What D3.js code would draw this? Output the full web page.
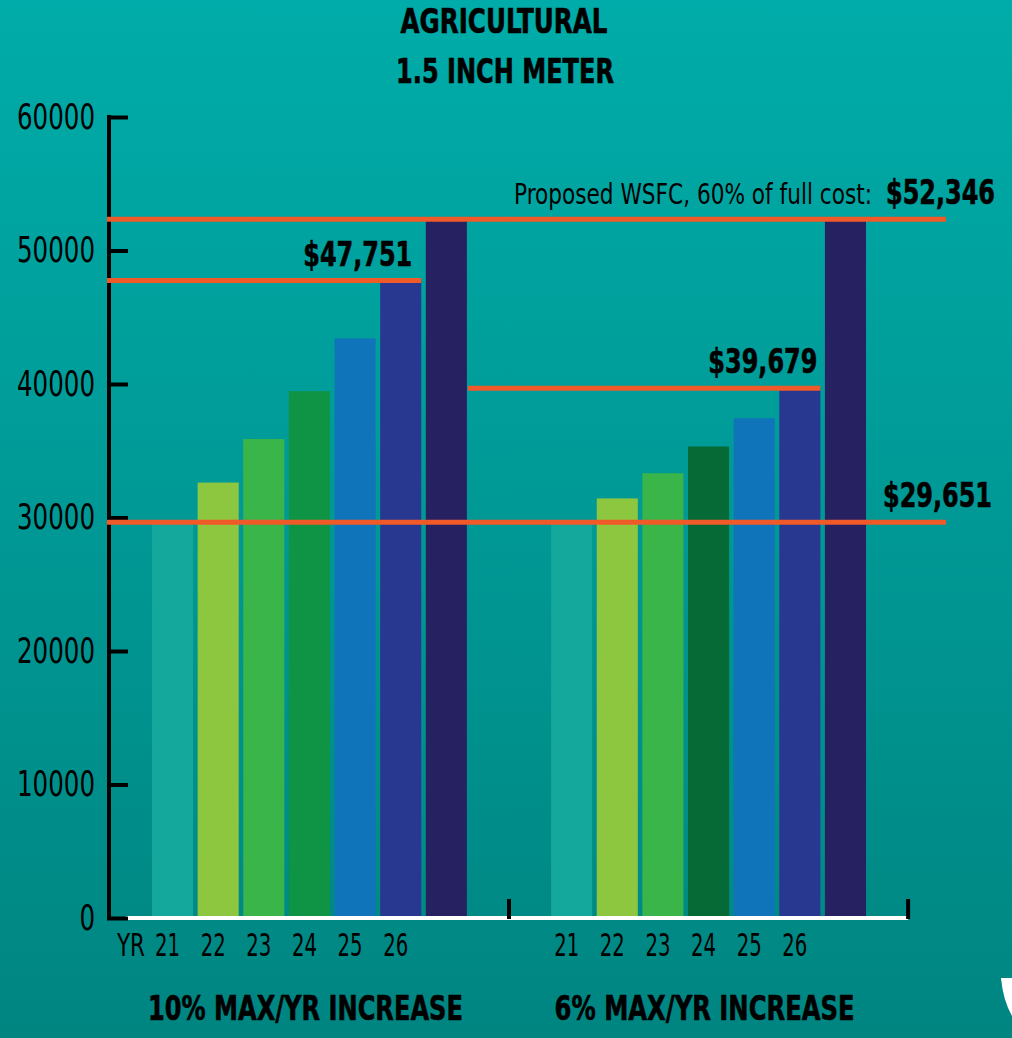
<!DOCTYPE html>
<html>
<head>
<meta charset="utf-8">
<title>Agricultural 1.5 inch meter</title>
<script src="https://cdn.jsdelivr.net/npm/d3@7"></script>
<style>
  body { margin: 0; background: #008683; }
  svg { display: block; }
  text { font-family: "Liberation Sans Narrow", "DejaVu Sans Condensed", "Roboto Condensed", sans-serif; fill: #000; }
  .bold { font-weight: bold; stroke: #000; stroke-width: 0.6px; }
</style>
</head>
<body>
<script>
// chart data
var groups = ["10% MAX/YR INCREASE", "6% MAX/YR INCREASE"];
var years = ["21", "22", "23", "24", "25", "26", "full"];
var yearLabels = ["21", "22", "23", "24", "25", "26", ""];
var tenPct = [29651, 32616, 35878, 39466, 43413, 47751, 52346];
var sixPct = [29651, 31430, 33316, 35315, 37434, 39679, 52346];
var tenColors = ["#13a89b", "#8dc63f", "#3ab54a", "#0f9445", "#1074bb", "#283891", "#262262"];
var sixColors = ["#13a89b", "#8dc63f", "#3ab54a", "#066a37", "#1074bb", "#283891", "#262262"];
var yTicks = [0, 10000, 20000, 30000, 40000, 50000, 60000];
var refValues = [52346, 47751, 39679, 29651];
var refLabels = ["$52,346", "$47,751", "$39,679", "$29,651"];

var width = 1012,
    height = 1038;

// squeeze a text to a given width so it looks like the condensed face of the original
function fit(sel, w) {
  sel.attr("textLength", w).attr("lengthAdjust", "spacingAndGlyphs");
}

var svg = d3.select("body").append("svg")
    .attr("width", width)
    .attr("height", height);

var grad = svg.append("defs").append("linearGradient")
    .attr("id", "bg").attr("x1", 0).attr("y1", 0).attr("x2", 0).attr("y2", 1);
grad.append("stop").attr("offset", "0%").attr("stop-color", "#00aca9");
grad.append("stop").attr("offset", "100%").attr("stop-color", "#008581");
svg.append("rect").attr("width", width).attr("height", height).attr("fill", "url(#bg)");

// bit of the white logo poking in at the corner
svg.append("path")
    .attr("d", "M1001,978H1012V1016Q1003,1000 1001,978Z")
    .attr("fill", "#fff");

var y = d3.scaleLinear().domain([0, 60000]).range([918, 117]);
var x0 = d3.scaleBand().domain(groups).range([152, 866]).paddingInner(0.211);
var x1 = d3.scaleBand().domain(years).range([0, x0.bandwidth()]).paddingInner(0.1);

function bx(g, yr) { return x0(g) + x1(yr); }

// title
svg.append("text").attr("class", "bold")
    .attr("x", 504).attr("y", 33)
    .attr("text-anchor", "middle").style("font-size", "34px")
    .text("AGRICULTURAL").call(fit, 207);
svg.append("text").attr("class", "bold")
    .attr("x", 505).attr("y", 83)
    .attr("text-anchor", "middle").style("font-size", "34px")
    .text("1.5 INCH METER").call(fit, 218);

// bars
var series = [tenPct, sixPct];
var palettes = [tenColors, sixColors];
groups.forEach(function (g, gi) {
  svg.append("g").selectAll("rect")
    .data(series[gi])
    .enter().append("rect")
      .attr("x", function (d, i) { return bx(g, years[i]); })
      .attr("y", function (d) { return y(d); })
      .attr("width", x1.bandwidth())
      .attr("height", function (d) { return y(0) - y(d); })
      .attr("fill", function (d, i) { return palettes[gi][i]; });
});

// white baseline and group dividers
var gap = x0.step() - x0.bandwidth();
svg.append("line")
    .attr("x1", 126).attr("x2", x0(groups[1]) + x0.bandwidth() + gap / 2)
    .attr("y1", y(0)).attr("y2", y(0))
    .attr("stroke", "#fff").attr("stroke-width", 4);
groups.forEach(function (g) {
  var xm = x0(g) + x0.bandwidth() + gap / 2;
  svg.append("line")
      .attr("x1", xm).attr("x2", xm)
      .attr("y1", y(0) - 19).attr("y2", y(0) + 1)
      .attr("stroke", "#000").attr("stroke-width", 4);
});

// y axis
var yAxis = svg.append("g")
    .attr("transform", "translate(109,0)")
    .call(d3.axisLeft(y).tickValues(yTicks).tickFormat(d3.format("d"))
      .tickSizeInner(-19).tickSizeOuter(0).tickPadding(14));
yAxis.select(".domain").attr("stroke", "#000").attr("stroke-width", 4)
    .attr("d", "M0," + (y(0) + 2) + "V" + (y(60000) - 2));
yAxis.selectAll(".tick line").attr("stroke", "#000").attr("stroke-width", 4)
    .attr("x1", -2);
yAxis.selectAll(".tick text").attr("fill", "#000")
    .style("font-size", "35px").style("font-family", null)
    .each(function (d) { d3.select(this).call(fit, String(d).length * 15.6); });

// year labels
groups.forEach(function (g) {
  svg.append("g").selectAll("text")
    .data(yearLabels)
    .enter().append("text")
      .attr("x", function (d, i) { return bx(g, years[i]) + x1.bandwidth() / 2 - 5; })
      .attr("y", 956)
      .attr("text-anchor", "middle")
      .style("font-size", "32px")
      .text(function (d) { return d; })
      .each(function (d) { if (d) d3.select(this).call(fit, 25); });
});
svg.append("text")
    .attr("x", bx(groups[0], years[0]) - 7).attr("y", 956)
    .attr("text-anchor", "end").style("font-size", "32px")
    .text("YR").call(fit, 28);

// group labels
var groupLabelW = [315, 300];
groups.forEach(function (g, gi) {
  svg.append("text").attr("class", "bold")
      .attr("x", x0(g) + x0.bandwidth() / 2 - 4).attr("y", 1020)
      .attr("text-anchor", "middle").style("font-size", "34px")
      .text(g).call(fit, groupLabelW[gi]);
});

// reference lines
var red = "#f05a28";
var rightEnd = 946;
var spans = [
  [107, rightEnd],
  [107, bx(groups[0], "26") + x1.bandwidth()],
  [bx(groups[0], "full") + x1.bandwidth() + 1, bx(groups[1], "26") + x1.bandwidth()],
  [107, rightEnd]
];
refValues.forEach(function (v, i) {
  svg.append("line")
      .attr("x1", spans[i][0]).attr("x2", spans[i][1])
      .attr("y1", y(v)).attr("y2", y(v))
      .attr("stroke", red).attr("stroke-width", 5);
});

// value labels
var labelX = [995, bx(groups[0], "26") + x1.bandwidth() - 9, bx(groups[1], "26") + x1.bandwidth() - 3, 992];
refValues.forEach(function (v, i) {
  svg.append("text").attr("class", "bold")
      .attr("x", labelX[i]).attr("y", y(v) - 15)
      .attr("text-anchor", "end").style("font-size", "34px")
      .text(refLabels[i]).call(fit, 109);
});
svg.append("text")
    .attr("x", 872).attr("y", y(refValues[0]) - 15)
    .attr("text-anchor", "end").style("font-size", "29px")
    .text("Proposed WSFC, 60% of full cost:").call(fit, 358);
</script>
</body>
</html>
